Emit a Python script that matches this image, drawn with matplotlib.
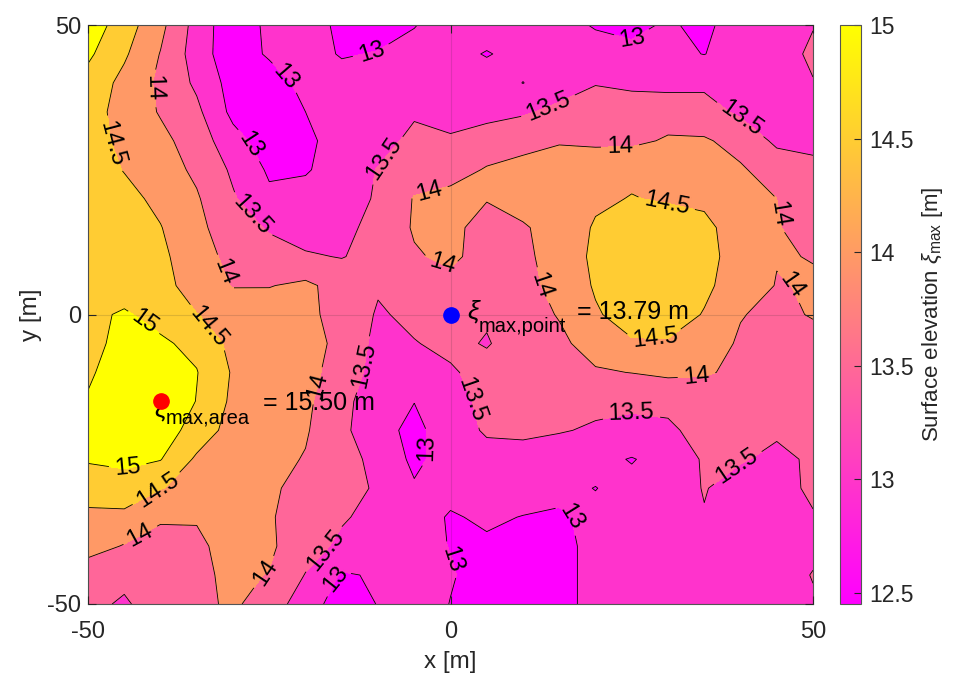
import numpy as np
import matplotlib
matplotlib.use("Agg")
import matplotlib.pyplot as plt
from matplotlib.colors import Normalize
from matplotlib.cm import ScalarMappable

plt.rcParams["font.family"] = "Liberation Sans"
plt.rcParams["mathtext.fontset"] = "custom"
plt.rcParams["mathtext.rm"] = "Liberation Sans"
plt.rcParams["mathtext.it"] = "Liberation Sans:italic"
plt.rcParams["axes.unicode_minus"] = False

# grid of max surface elevation (m), rows from y=50 down to y=-50, columns x=-50..50
x = np.arange(-50, 51, 5)
y = np.arange(50, -51, -5)
Z = np.array([
    [15.3, 14.74, 14.13, 13.31, 12.65, 13.12, 13.21, 12.9, 12.85, 12.98, 13.22, 13.3, 13.3, 13.2, 12.95, 12.9, 13.05, 12.9, 13.23, 13.35, 13.49],
    [15.09, 14.57, 13.98, 13.27, 12.66, 13.08, 13.15, 12.97, 13.02, 13.15, 13.2, 12.96, 13.2, 13.3, 13.25, 13.1, 13.1, 12.99, 13.2, 13.4, 13.54],
    [14.82, 14.36, 13.9, 13.41, 12.8, 12.7, 13.19, 13.15, 13.1, 13.2, 13.3, 13.3, 12.99, 13.3, 13.48, 13.4, 13.35, 13.4, 13.35, 13.3, 13.49],
    [14.69, 14.33, 13.96, 13.61, 12.87, 12.7, 13.0, 13.2, 13.3, 13.45, 13.35, 13.4, 13.45, 13.6, 13.7, 13.75, 13.8, 13.7, 13.41, 13.3, 13.35],
    [14.67, 14.4, 14.13, 13.77, 13.18, 12.75, 12.9, 13.2, 13.35, 13.6, 13.55, 13.65, 13.8, 13.95, 13.9, 13.9, 14.05, 14.05, 13.85, 13.4, 13.4],
    [14.74, 14.48, 14.22, 13.91, 13.42, 12.93, 12.95, 13.25, 13.52, 13.75, 13.75, 14.05, 14.2, 14.3, 14.35, 14.4, 14.4, 14.3, 14.05, 13.8, 13.6],
    [14.8, 14.65, 14.38, 14.05, 13.55, 13.1, 13.2, 13.3, 13.55, 14.03, 14.2, 14.02, 14.2, 14.35, 14.42, 14.52, 14.45, 14.42, 14.2, 14.0, 13.7],
    [14.82, 14.7, 14.52, 14.12, 13.73, 13.45, 13.3, 13.4, 13.62, 14.05, 14.1, 13.85, 13.95, 14.2, 14.55, 14.75, 14.75, 14.6, 14.3, 14.03, 13.8],
    [14.85, 14.75, 14.6, 14.22, 13.85, 13.7, 13.55, 13.48, 13.65, 13.95, 14.1, 13.8, 13.9, 14.2, 14.6, 14.85, 14.85, 14.65, 14.3, 14.02, 13.99],
    [14.85, 14.8, 14.65, 14.3, 13.97, 13.98, 14.1, 13.8, 13.55, 13.7, 13.85, 13.75, 13.85, 14.15, 14.55, 14.85, 14.85, 14.6, 14.25, 13.98, 14.03],
    [14.9, 15.05, 14.85, 14.51, 14.35, 14.25, 14.1, 13.85, 13.45, 13.6, 13.79, 13.55, 13.8, 14.03, 14.45, 14.7, 14.75, 14.47, 14.02, 13.9, 14.03],
    [14.9, 15.1, 15.07, 14.88, 14.35, 14.25, 14.15, 13.9, 13.35, 13.48, 13.6, 13.47, 13.7, 13.9, 14.2, 14.45, 14.45, 14.2, 13.95, 13.8, 13.85],
    [14.92, 15.3, 15.4, 15.02, 14.45, 14.3, 14.15, 13.8, 13.3, 13.2, 13.45, 13.65, 13.75, 13.85, 13.95, 14.01, 14.1, 14.05, 13.9, 13.75, 13.75],
    [15.05, 15.4, 15.5, 14.98, 14.4, 14.3, 14.1, 13.65, 13.2, 13.01, 13.35, 13.6, 13.7, 13.65, 13.6, 13.57, 13.57, 13.7, 13.75, 13.7, 13.7],
    [15.1, 15.2, 15.25, 14.8, 14.3, 14.2, 14.05, 13.6, 13.2, 12.85, 13.3, 13.55, 13.6, 13.53, 13.45, 13.4, 13.45, 13.6, 13.65, 13.55, 13.6],
    [15.05, 15.1, 15.02, 14.42, 14.3, 14.15, 13.97, 13.7, 13.35, 12.9, 13.2, 13.35, 13.3, 13.25, 13.15, 12.97, 13.2, 13.55, 13.53, 13.42, 13.55],
    [14.7, 14.8, 14.52, 14.35, 14.2, 14.05, 13.9, 13.65, 13.45, 13.05, 13.1, 13.2, 13.15, 13.1, 12.99, 13.15, 13.3, 13.52, 13.35, 13.4, 13.55],
    [14.4, 14.38, 14.05, 14.02, 14.15, 14.05, 13.75, 13.55, 13.35, 13.15, 12.97, 13.05, 12.99, 12.95, 13.1, 13.2, 13.3, 13.48, 13.3, 13.3, 13.48],
    [14.2, 13.97, 13.85, 13.95, 14.1, 14.08, 13.7, 13.4, 13.2, 13.1, 12.99, 12.95, 12.85, 12.9, 13.1, 13.2, 13.3, 13.35, 13.3, 13.3, 13.4],
    [13.7, 13.6, 13.7, 13.9, 14.1, 13.98, 13.48, 12.95, 13.05, 13.2, 13.03, 12.85, 12.8, 12.9, 13.1, 13.2, 13.25, 13.3, 13.3, 13.3, 13.52],
    [13.6, 13.45, 13.7, 13.85, 14.1, 13.7, 13.3, 12.7, 13.02, 13.2, 12.99, 12.9, 12.8, 12.9, 13.1, 13.2, 13.25, 13.25, 13.3, 13.3, 13.45],
])

levels = [13, 13.5, 14, 14.5, 15]
cbar_ticks = [12.5, 13, 13.5, 14, 14.5, 15]
cbar_min, cbar_max = 12.45, 15

# where the contour labels sit (data coords)
label_pos = [(-40.8, 39.1), (-47, 29.3), (-22.4, 41.4), (-29, 28.4), (-27.4, 17.2),
             (-31.1, 7.3), (-42.1, -1), (-33.9, -2.7), (-18.7, -12.2), (-11.8, -8.7),
             (-10.8, 44.8), (-9, 26.7), (-2.8, 20.6), (-1.4, 8.0), (13.4, 36.2),
             (25, 47.8), (39.9, 33.6), (23.4, 28.1), (29.9, 19.8), (44.8, 17.2),
             (12.8, 5.1), (47.5, 5.6), (28.2, -4.4), (34, -11.7), (24.8, -16.1),
             (1.3, -15.6), (-2.4, -23), (39.9, -26.9), (16.9, -34.6), (-1.4, -42.9),
             (-17.7, -40.2), (-16.2, -45.5), (-25.2, -45), (-42.8, -38.1),
             (-39.4, -32.6), (-44.2, -28.2)]

X, Y = np.meshgrid(x, y)

# value at the centre point and the max over the area
i0, j0 = np.where(y == 0)[0][0], np.where(x == 0)[0][0]
z_point = Z[i0, j0]
im, jm = np.unravel_index(np.argmax(Z), Z.shape)
z_area = Z[im, jm]

fig = plt.figure(figsize=(9.57, 6.82), dpi=100)
ax = fig.add_axes([88 / 957, 1 - 604 / 682, 725 / 957, 579 / 682])
cax = fig.add_axes([840 / 957, 1 - 604 / 682, 21 / 957, 579 / 682])

band_norm = Normalize(12.5, 15)
band_colors = plt.cm.spring(band_norm([12.5] + levels))
ax.contourf(X, Y, Z, levels=[12.0] + levels + [16.0], colors=band_colors)
cs = ax.contour(X, Y, Z, levels=levels, colors="k", linewidths=0.6)
ax.clabel(cs, fmt="%g", fontsize=17, manual=label_pos, inline_spacing=6)

ax.plot(x[jm], y[im], "o", color="red", ms=11, zorder=5)
ax.plot(x[j0], y[i0], "o", color="blue", ms=11, zorder=5)


def xi_label(x0, y0, sub, value, xi_drop=0.0):
    # xi with a large subscript, then the value
    ax.text(x0, y0 - xi_drop, r"$\xi$", fontsize=19, va="baseline", zorder=4)
    ax.text(x0 + 1.6, y0 - 2.3, sub, fontsize=14.5, va="baseline", zorder=4)
    ax.text(x0 + 15.1, y0, "= %.2f m" % value, fontsize=18, va="baseline", zorder=4)


xi_label(2.3, -0.8, "max,point", z_point)
xi_label(-40.9, -16.5, "max,area", z_area, xi_drop=1.3)

ax.set_xlim(-50, 50)
ax.set_ylim(-50, 50)
ax.set_xticks([-50, 0, 50])
ax.set_yticks([-50, 0, 50])
ax.tick_params(direction="in", length=6, width=0.8, labelsize=17,
               top=True, right=True, color="#262626", labelcolor="#262626")
ax.tick_params(axis="x", pad=12)
ax.tick_params(axis="y", pad=5)
ax.grid(True, color="#262626", alpha=0.15, linewidth=0.8)
ax.set_axisbelow(False)
for s in ax.spines.values():
    s.set_color("#555555")
    s.set_linewidth(0.8)
ax.set_xlabel("x [m]", fontsize=17.5, color="#262626", labelpad=6)
ax.set_ylabel("y [m]", fontsize=17.5, color="#262626")

cb = fig.colorbar(ScalarMappable(norm=Normalize(cbar_min, cbar_max), cmap="spring"), cax=cax)
cb.set_ticks(cbar_ticks)
cb.set_ticklabels(["%g" % t for t in cbar_ticks])
cb.ax.tick_params(labelsize=16.5, direction="in", length=5, pad=6,
                  color="#262626", labelcolor="#262626")
cb.outline.set_edgecolor("#555555")
cb.outline.set_linewidth(0.8)
cb.set_label(r"Surface elevation $\xi_{\mathrm{max}}$ [m]", fontsize=16, color="#262626")

fig.savefig("out.png", dpi=100)
